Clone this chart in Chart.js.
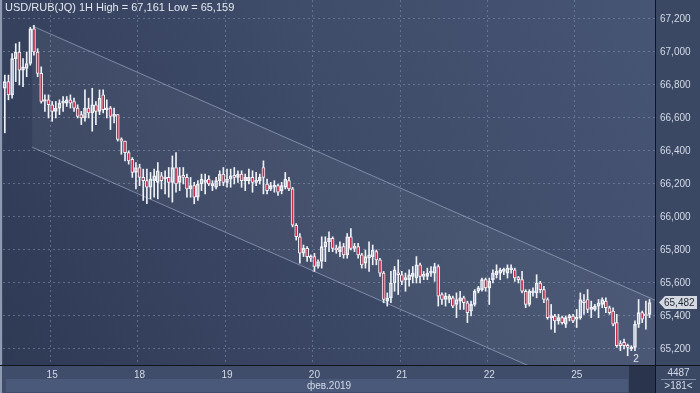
<!DOCTYPE html>
<html>
<head>
<meta charset="utf-8">
<script src="https://cdn.jsdelivr.net/npm/chart.js@4.4.1/dist/chart.umd.min.js"></script>
<style>
html, body { margin: 0; padding: 0; background: #3d4a68; }
#wrap { width: 700px; height: 393px; position: relative; }
</style>
</head>
<body>
<div id="wrap"><canvas id="chart1"></canvas></div>
<script>
// USD/RUB hourly candles, 14-25 Feb 2019
var opens = [
  66.78,66.82,66.74,66.96,67.00,66.89,66.90,66.93,67.14,67.00,66.87,66.70,66.71,
  66.68,66.64,66.66,66.69,66.69,66.71,66.70,66.66,66.62,66.60,66.66,66.63,66.68,66.64,66.74,66.65,66.66,66.61,66.62,66.47,66.46,66.39,66.35,66.27,
  66.30,66.24,66.22,66.18,66.22,66.21,66.25,66.23,66.24,66.21,66.30,66.21,66.25,66.24,66.17,66.19,66.12,66.20,66.21,66.23,66.19,66.18,66.22,66.26,
  66.21,66.23,66.25,66.24,66.26,66.22,66.22,66.24,66.21,66.22,66.30,66.20,66.17,66.18,66.19,66.16,66.18,66.22,66.17,65.95,65.88,65.78,65.81,65.76,
  65.76,65.70,65.73,65.82,65.85,65.87,65.81,65.79,65.82,65.77,65.88,65.81,65.82,65.77,65.72,65.75,65.76,65.79,65.74,65.66,65.49,65.51,65.60,65.66,
  65.65,65.62,65.62,65.64,65.63,65.71,65.64,65.64,65.66,65.66,65.70,65.53,65.50,65.50,65.51,65.47,65.49,65.51,65.48,65.43,65.47,65.55,65.56,65.62,
  65.57,65.62,65.65,65.66,65.67,65.66,65.68,65.68,65.63,65.62,65.55,65.47,65.54,65.54,65.60,65.56,65.50,65.39,65.40,65.37,65.39,65.35,65.39,65.40,
  65.38,65.39,65.49,65.50,65.44,65.44,65.46,65.47,65.49,65.45,65.43,65.36,65.23,65.24,65.22,65.20,65.21,65.35,65.42,65.41,65.41
];
var highs = [
  66.86,66.86,66.99,67.05,67.06,66.96,67.00,67.15,67.161,67.02,66.91,66.74,66.74,
  66.70,66.70,66.71,66.73,66.73,66.74,66.72,66.68,66.64,66.77,66.72,66.78,66.70,66.77,66.77,66.71,66.67,66.66,66.62,66.48,66.46,66.40,66.36,66.33,
  66.32,66.29,66.29,66.27,66.29,66.33,66.27,66.28,66.30,66.37,66.39,66.30,66.30,66.26,66.24,66.21,66.22,66.26,66.26,66.25,66.22,66.24,66.28,66.30,
  66.29,66.29,66.30,66.28,66.28,66.26,66.29,66.28,66.27,66.26,66.34,66.23,66.21,66.22,66.20,66.21,66.27,66.24,66.18,65.96,65.90,65.83,65.82,65.77,
  65.78,65.74,65.88,65.88,65.91,65.88,65.83,65.85,65.84,65.90,65.93,65.84,65.84,65.78,65.80,65.85,65.83,65.80,65.75,65.67,65.54,65.67,65.70,65.74,
  65.67,65.66,65.68,65.70,65.76,65.72,65.67,65.69,65.70,65.72,65.71,65.54,65.54,65.53,65.52,65.54,65.55,65.52,65.49,65.49,65.56,65.58,65.63,65.63,
  65.63,65.68,65.71,65.69,65.69,65.71,65.71,65.69,65.64,65.67,65.56,65.56,65.57,65.65,65.61,65.58,65.51,65.47,65.41,65.41,65.40,65.40,65.41,65.41,
  65.44,65.54,65.53,65.56,65.49,65.47,65.50,65.51,65.51,65.46,65.45,65.41,65.25,65.26,65.23,65.22,65.37,65.50,65.43,65.49,65.50
];
var lows = [
  66.51,66.71,66.72,66.82,66.80,66.79,66.85,66.92,66.98,66.85,66.69,66.64,66.60,
  66.58,66.60,66.62,66.64,66.67,66.66,66.64,66.60,66.56,66.58,66.60,66.52,66.56,66.62,66.63,66.60,66.53,66.57,66.46,66.38,66.34,66.32,66.24,66.17,
  66.19,66.10,66.08,66.11,66.12,66.11,66.17,66.14,66.12,66.09,66.15,66.16,66.20,66.12,66.12,66.08,66.10,66.16,66.14,66.19,66.16,66.17,66.19,66.19,
  66.18,66.18,66.20,66.21,66.18,66.16,66.20,66.15,66.19,66.20,66.14,66.14,66.16,66.15,66.13,66.14,66.17,66.16,65.94,65.86,65.72,65.76,65.73,65.73,
  65.67,65.69,65.69,65.73,65.79,65.79,65.78,65.76,65.75,65.75,65.80,65.79,65.75,65.69,65.69,65.67,65.71,65.71,65.64,65.48,65.46,65.48,65.55,65.53,
  65.59,65.55,65.58,65.60,65.60,65.60,65.62,65.62,65.64,65.61,65.46,65.47,65.46,65.48,65.45,65.39,65.44,65.44,65.36,65.40,65.46,65.54,65.55,65.55,
  65.47,65.60,65.63,65.62,65.65,65.63,65.66,65.61,65.60,65.54,65.45,65.46,65.52,65.51,65.54,65.48,65.38,65.32,65.30,65.35,65.35,65.33,65.37,65.36,
  65.33,65.38,65.41,65.42,65.39,65.43,65.39,65.45,65.42,65.41,65.34,65.21,65.19,65.20,65.159,65.19,65.19,65.33,65.36,65.32,65.39
];
var closes = [
  66.82,66.74,66.96,67.00,66.89,66.91,66.93,67.14,67.00,66.87,66.70,66.71,66.68,
  66.64,66.66,66.69,66.70,66.71,66.69,66.66,66.61,66.60,66.66,66.63,66.68,66.64,66.72,66.65,66.66,66.61,66.62,66.47,66.46,66.39,66.34,66.27,66.30,
  66.24,66.22,66.18,66.23,66.25,66.28,66.22,66.24,66.21,66.30,66.20,66.25,66.24,66.17,66.19,66.12,66.20,66.23,66.22,66.20,66.20,66.22,66.26,66.21,
  66.23,66.25,66.24,66.26,66.22,66.24,66.24,66.21,66.22,66.24,66.24,66.16,66.19,66.19,66.15,66.19,66.23,66.17,65.95,65.88,65.78,65.81,65.76,65.75,
  65.70,65.73,65.82,65.85,65.87,65.81,65.80,65.82,65.77,65.88,65.81,65.82,65.77,65.71,65.76,65.77,65.80,65.74,65.66,65.50,65.51,65.60,65.68,65.65,
  65.61,65.63,65.65,65.66,65.71,65.64,65.65,65.66,65.67,65.70,65.52,65.50,65.52,65.52,65.46,65.50,65.51,65.48,65.42,65.47,65.55,65.57,65.62,65.57,
  65.61,65.66,65.67,65.68,65.68,65.69,65.69,65.63,65.62,65.55,65.47,65.55,65.55,65.60,65.56,65.50,65.39,65.40,65.37,65.39,65.36,65.39,65.40,65.37,
  65.39,65.50,65.48,65.44,65.45,65.46,65.48,65.50,65.45,65.42,65.35,65.22,65.22,65.22,65.21,65.21,65.35,65.42,65.38,65.40,65.482
];
var days = ['15', '18', '19', '20', '21', '22', '25'];
var dayStart = [13, 37, 61, 85, 109, 133, 157];   // first hourly bar of each day
var slotCount = 179;
var yTicks = [65.2, 65.4, 65.6, 65.8, 66.0, 66.2, 66.4, 66.6, 66.8, 67.0, 67.2];
var yMin = 65.103, yMax = 67.315;
var lastPrice = 65.482;
var monthLabel = 'фев.2019';
var title = 'USD/RUB(JQ) 1H High = 67,161 Low = 65,159';
// trend channel drawn on the chart (bar index / price)
var chanStart = 7.5, chanTop = 67.158, chanSlope = -0.00972, chanWidth = 0.735;

var labels = [];
for (var i = 0; i < slotCount; i++) {
  var k = dayStart.indexOf(i);
  labels.push(k >= 0 ? days[k] : '');
}
var bodyLo = opens.map(function (o, i) { return Math.min(o, closes[i]); });
var bodyHi = opens.map(function (o, i) { return Math.max(o, closes[i]); });

var wickCol = '#eef1f6';
var redCol = '#c62a4c';
var gridCol = 'rgba(125,140,172,0.6)';
var textCol = '#d3dae6';
var font = { family: 'Liberation Sans', size: 10 };

function fmt(v) { return v.toFixed(3).replace('.', ','); }

var chromePlugin = {
  id: 'chrome',
  beforeDraw: function (chart) {
    var c = chart.ctx, a = chart.chartArea, W = chart.width, H = chart.height;
    c.save();
    c.fillStyle = '#3c4966';
    c.fillRect(0, 0, W, H);
    var g = c.createLinearGradient(a.left, a.bottom, a.right, a.top);
    g.addColorStop(0, '#2f3a55');
    g.addColorStop(0.55, '#3e4b69');
    g.addColorStop(1, '#475574');
    c.fillStyle = g;
    c.fillRect(a.left, a.top, a.right - a.left, a.bottom - a.top);
    // date axis strip
    c.fillStyle = '#3f4c6a';
    c.fillRect(0, a.bottom, a.right, H - a.bottom);
    c.fillStyle = '#4a5979';
    c.fillRect(6, a.bottom + 14, 622, H - a.bottom - 15);
    c.fillStyle = '#2a344d';
    c.fillRect(629, a.bottom, a.right - 629, H - a.bottom);
    // price axis
    c.fillStyle = '#3b4864';
    c.fillRect(a.right, 0, W - a.right, H);
    // window frame on the left
    c.fillStyle = '#8e9ab0';
    c.fillRect(0, 0, 2, H);
    c.restore();
  },
  beforeDatasetsDraw: function (chart) {
    var c = chart.ctx, a = chart.chartArea;
    var xs = chart.scales.x, ys = chart.scales.y;
    var endIdx = slotCount - 0.5;
    var endTop = chanTop + chanSlope * (endIdx - chanStart);
    var x0 = xs.getPixelForValue(chanStart), x1 = xs.getPixelForValue(endIdx);
    var t0 = ys.getPixelForValue(chanTop), t1 = ys.getPixelForValue(endTop);
    var b0 = ys.getPixelForValue(chanTop - chanWidth), b1 = ys.getPixelForValue(endTop - chanWidth);
    c.save();
    c.beginPath();
    c.rect(a.left, a.top, a.right - a.left, a.bottom - a.top);
    c.clip();
    c.beginPath();
    c.moveTo(x0, t0); c.lineTo(x1, t1); c.lineTo(x1, b1); c.lineTo(x0, b0); c.closePath();
    c.fillStyle = 'rgba(255,255,255,0.05)';
    c.fill();
    c.strokeStyle = 'rgba(190,202,225,0.5)';
    c.lineWidth = 1;
    c.beginPath();
    c.moveTo(x0, t0); c.lineTo(x1, t1);
    c.moveTo(x0, b0); c.lineTo(x1, b1);
    c.stroke();
    c.restore();
  },
  afterDraw: function (chart) {
    var c = chart.ctx, a = chart.chartArea, W = chart.width, H = chart.height;
    var ys = chart.scales.y;
    c.save();
    // separators
    c.strokeStyle = '#10141d';
    c.lineWidth = 1;
    c.beginPath();
    c.moveTo(0, a.bottom + 0.5); c.lineTo(W, a.bottom + 0.5);
    c.moveTo(a.right + 0.5, 0); c.lineTo(a.right + 0.5, H);
    c.stroke();
    // title
    c.font = '11px "Liberation Sans"';
    c.fillStyle = '#e3e8f0';
    c.textBaseline = 'middle';
    c.textAlign = 'left';
    c.fillText(title, 5, 8);
    // month label
    c.font = '10px "Liberation Sans"';
    c.fillStyle = textCol;
    c.textAlign = 'center';
    c.fillText(monthLabel, (a.left + a.right) / 2, 386);
    // bottom right box
    c.fillText('4487', (a.right + W) / 2 + 1, 373);
    c.fillText('>181<', (a.right + W) / 2 + 1, 386);
    c.strokeStyle = '#7d89a0';
    c.beginPath();
    c.moveTo(a.right + 6, 379.5); c.lineTo(W - 4, 379.5);
    c.stroke();
    // marker
    c.fillStyle = '#e8ecf2';
    c.fillText('2', 636, 359);
    // last price tag
    var py = Math.round(ys.getPixelForValue(lastPrice)) + 0.5;
    c.fillStyle = '#d5dae2';
    c.beginPath();
    c.moveTo(a.right + 4, py);
    c.lineTo(a.right + 10, py - 6.5);
    c.lineTo(W - 3, py - 6.5);
    c.lineTo(W - 3, py + 6.5);
    c.lineTo(a.right + 10, py + 6.5);
    c.closePath();
    c.fill();
    c.fillStyle = '#1f2633';
    c.textAlign = 'left';
    c.fillText(fmt(lastPrice), a.right + 9, py + 0.5);
    c.restore();
  }
};

var ctx = document.getElementById('chart1').getContext('2d');
var chart1 = new Chart(ctx, {
  type: 'bar',
  data: {
    labels: labels,
    datasets: [{
      label: 'upper wick',
      data: highs.map(function (h, i) { return [bodyHi[i], h]; }),
      backgroundColor: wickCol,
      barThickness: 1,
      grouped: false,
      order: 2
    }, {
      label: 'lower wick',
      data: lows.map(function (l, i) { return [l, bodyLo[i]]; }),
      backgroundColor: wickCol,
      barThickness: 1,
      grouped: false,
      order: 2
    }, {
      label: 'body',
      data: bodyLo.map(function (l, i) { return [l, bodyHi[i]]; }),
      backgroundColor: closes.map(function (cl, i) { return cl < opens[i] ? redCol : 'rgba(0,0,0,0)'; }),
      borderColor: wickCol,
      borderWidth: 1,
      borderSkipped: false,
      barThickness: 3,
      minBarLength: 2,
      grouped: false,
      order: 1
    }]
  },
  options: {
    responsive: true,
    maintainAspectRatio: false,
    animation: false,
    layout: { padding: { left: 3, top: 0, right: 0, bottom: 0 } },
    plugins: { legend: { display: false }, tooltip: { enabled: false } },
    scales: {
      x: {
        offset: true,
        grid: {
          offset: true,
          drawTicks: false,
          color: function (c) { return labels[c.index] ? gridCol : 'rgba(0,0,0,0)'; }
        },
        border: { display: false, dash: [2, 3] },
        ticks: {
          autoSkip: false, maxRotation: 0, minRotation: 0, padding: 4,
          color: textCol, font: font,
          callback: function (v, i) { return labels[i]; }
        },
        afterFit: function (s) { s.height = 28; s.paddingLeft = 0; s.paddingRight = 0; }
      },
      y: {
        position: 'right',
        min: yMin,
        max: yMax,
        afterBuildTicks: function (s) { s.ticks = yTicks.map(function (v) { return { value: v }; }); },
        grid: { color: gridCol, drawTicks: false },
        border: { display: false, dash: [2, 3] },
        ticks: { padding: 5, color: textCol, font: font, callback: function (v) { return fmt(v); } },
        afterFit: function (s) { s.width = 45; s.paddingTop = 0; s.paddingBottom = 0; }
      }
    }
  },
  plugins: [chromePlugin]
});
</script>
</body>
</html>
